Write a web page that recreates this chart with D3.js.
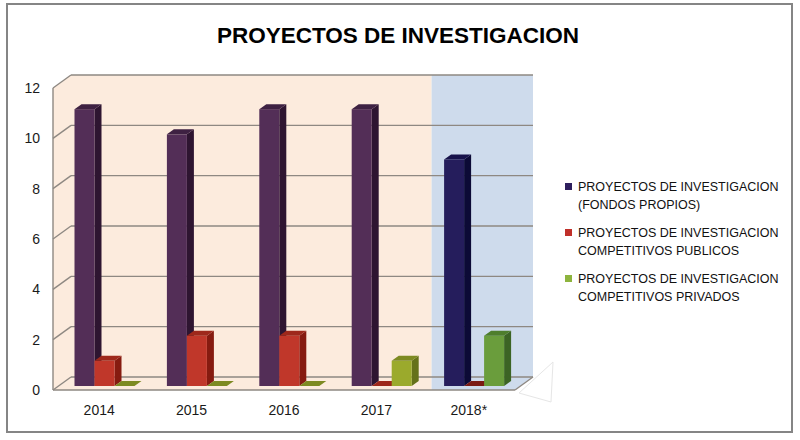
<!DOCTYPE html>
<html>
<head>
<meta charset="utf-8">
<script src="https://cdn.jsdelivr.net/npm/d3@7/dist/d3.min.js"></script>
<style>
  html, body { margin: 0; padding: 0; background: #fff; }
  svg { display: block; font-family: "Liberation Sans", Arial, sans-serif; }
</style>
</head>
<body>
<svg id="chart" width="800" height="440"></svg>
<script>
// ---- data ----
const categories = ["2014", "2015", "2016", "2017", "2018*"];
const fondosPropios = [11, 10, 11, 11, 9];
const competitivosPublicos = [1, 2, 2, 0, 0];
const competitivosPrivados = [0, 0, 0, 1, 2];
const yTicks = [0, 2, 4, 6, 8, 10, 12];
const seriesLabels = [
  ["PROYECTOS DE INVESTIGACION", "(FONDOS PROPIOS)"],
  ["PROYECTOS DE INVESTIGACION", "COMPETITIVOS PUBLICOS"],
  ["PROYECTOS DE INVESTIGACION", "COMPETITIVOS PRIVADOS"]
];
const titleText = "PROYECTOS DE INVESTIGACION";
const highlightCategory = "2018*";

// ---- styles ----
const normalColors = [
  { front: "#532E57", side: "#2E1531", top: "#3E2142" },
  { front: "#C0372A", side: "#861B10", top: "#9E281B" },
  { front: "#9BAA2C", side: "#65711A", top: "#7D8A22" }
];
const highlightColors = [
  { front: "#251D5C", side: "#0C0A36", top: "#17124A" },
  { front: "#C0372A", side: "#861B10", top: "#7A1A14" },
  { front: "#6A9D3C", side: "#3C6424", top: "#4E7E2C" }
];
const legendColors = ["#2E1F5E", "#C0302A", "#8DB43E"];
const peach = "#FCEBDD", blue = "#CEDBEC", gridColor = "#8E8882";

const svg = d3.select("#chart");

// outer border
svg.append("rect").attr("x", 7).attr("y", 4).attr("width", 785).attr("height", 428)
  .attr("fill", "#fff").attr("stroke", "#858585").attr("stroke-width", 2);

// title
svg.append("text").attr("x", 398).attr("y", 43).attr("text-anchor", "middle")
  .attr("font-size", 22.5).attr("font-weight", "bold").attr("fill", "#000").text(titleText);

// ---- scales ----
const x = d3.scaleBand().domain(categories).range([53, 515]);
const sub = d3.scaleBand().domain([0, 1, 2]).range([16, 76]);
const yFront = d3.scaleLinear().domain([0, 12]).range([390, 88]);
const DX = 18, DY = -13;        // wall depth
const BX = 5.5, BY = -4;        // bar plane offset
const BDX = 7, BDY = -5;        // bar depth
const yMax = d3.max(yTicks);

const x0 = x.range()[0], x1 = x.range()[1];
const hiX = x(highlightCategory) + DX / 2;

// side wall
svg.append("polygon").attr("fill", peach)
  .attr("points", [[x0, yFront(yMax)], [x0 + DX, yFront(yMax) + DY], [x0 + DX, yFront(0) + DY], [x0, yFront(0)]].join(" "));
// back wall
svg.append("rect").attr("x", x0 + DX).attr("y", yFront(yMax) + DY)
  .attr("width", hiX - (x0 + DX)).attr("height", yFront(0) - yFront(yMax)).attr("fill", peach);
svg.append("rect").attr("x", hiX).attr("y", yFront(yMax) + DY)
  .attr("width", x1 + DX - hiX).attr("height", yFront(0) - yFront(yMax)).attr("fill", blue);
// floor
svg.append("polygon").attr("fill", peach)
  .attr("points", [[x0, yFront(0)], [x0 + DX, yFront(0) + DY], [hiX, yFront(0) + DY], [hiX, yFront(0)]].join(" "));
svg.append("polygon").attr("fill", blue)
  .attr("points", [[hiX, yFront(0)], [hiX, yFront(0) + DY], [x1 + DX, yFront(0) + DY], [x1, yFront(0)]].join(" "));

// gridlines on back wall + side diagonals
const grid = svg.append("g").attr("stroke", gridColor).attr("stroke-width", 1.4).attr("fill", "none");
yTicks.forEach(t => {
  grid.append("line").attr("x1", x0 + DX).attr("x2", x1 + DX)
    .attr("y1", yFront(t) + DY).attr("y2", yFront(t) + DY);
  grid.append("line").attr("x1", x0).attr("x2", x0 + DX)
    .attr("y1", yFront(t)).attr("y2", yFront(t) + DY);
});
// vertical axis line
grid.append("line").attr("x1", x0).attr("x2", x0).attr("y1", yFront(yMax)).attr("y2", yFront(0));
// floor edges
grid.append("line").attr("x1", x0).attr("x2", x1).attr("y1", yFront(0)).attr("y2", yFront(0));
grid.append("line").attr("x1", x1).attr("x2", x1 + DX).attr("y1", yFront(0)).attr("y2", yFront(0) + DY);

// faint artifact near bottom right
svg.append("polygon").attr("fill", "none").attr("stroke", "#E6E6E6").attr("stroke-width", 1)
  .attr("points", [[519, 393], [553, 362], [551, 402]].join(" "));

// y tick labels
svg.append("g").selectAll("text").data(yTicks).join("text")
  .attr("x", 40).attr("y", d => yFront(d) + 5).attr("text-anchor", "end")
  .attr("font-size", 14).attr("fill", "#1a1a1a").text(d => d);

// category labels
svg.append("g").selectAll("text").data(categories).join("text")
  .attr("x", d => x(d) + x.bandwidth() / 2).attr("y", 415).attr("text-anchor", "middle")
  .attr("font-size", 14).attr("fill", "#1a1a1a").text(d => d);

// ---- bars ----
const seriesValues = [fondosPropios, competitivosPublicos, competitivosPrivados];
const barW = sub.bandwidth();
const bars = [];
categories.forEach((c, ci) => {
  seriesValues.forEach((vals, si) => {
    bars.push({ cat: c, s: si, v: vals[ci] });
  });
});
const barG = svg.append("g");
bars.forEach(b => {
  const col = (b.cat === highlightCategory ? highlightColors : normalColors)[b.s];
  const xl = x(b.cat) + sub(b.s) + BX;
  const xr = xl + barW;
  const yb = yFront(0) + BY;
  const yt = yFront(b.v) + BY;
  const g = barG.append("g");
  if (b.v > 0) {
    g.append("polygon").attr("fill", col.side)
      .attr("points", [[xr, yt], [xr + BDX, yt + BDY], [xr + BDX, yb + BDY], [xr, yb]].join(" "));
    g.append("rect").attr("x", xl).attr("y", yt).attr("width", barW).attr("height", yb - yt).attr("fill", col.front);
  }
  g.append("polygon").attr("fill", col.top)
    .attr("points", [[xl, yt], [xl + BDX, yt + BDY], [xr + BDX, yt + BDY], [xr, yt]].join(" "));
});

// ---- legend ----
const legend = svg.append("g");
const legendBase = [191, 237, 283];
seriesLabels.forEach((lines, i) => {
  const by = legendBase[i];
  legend.append("rect").attr("x", 565).attr("y", by - 8).attr("width", 7).attr("height", 7).attr("fill", legendColors[i]);
  lines.forEach((ln, li) => {
    legend.append("text").attr("x", 578).attr("y", by + li * 17.5)
      .attr("font-size", 12.5).attr("fill", "#111").text(ln);
  });
});
</script>
</body>
</html>
